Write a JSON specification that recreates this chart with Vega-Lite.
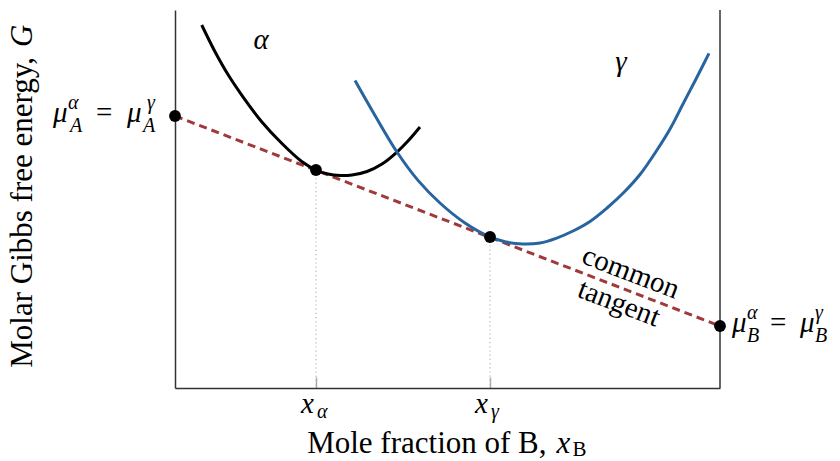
{
  "$schema": "https://vega.github.io/schema/vega-lite/v6.json",
  "width": 545,
  "height": 378,
  "autosize": {"type": "none"},
  "padding": {"left": 175, "top": 10, "right": 120, "bottom": 73},
  "background": "white",
  "config": {"view": {"stroke": null}},
  "datasets": {
    "curves": [
      {"phase": "α", "x": 0.049, "g": 0.9603},
      {"phase": "α", "x": 0.0734, "g": 0.8897},
      {"phase": "α", "x": 0.0978, "g": 0.828},
      {"phase": "α", "x": 0.1224, "g": 0.7751},
      {"phase": "α", "x": 0.1591, "g": 0.7045},
      {"phase": "α", "x": 0.1958, "g": 0.6474},
      {"phase": "α", "x": 0.2325, "g": 0.5992},
      {"phase": "α", "x": 0.2587, "g": 0.5767},
      {"phase": "α", "x": 0.2807, "g": 0.5661},
      {"phase": "α", "x": 0.3028, "g": 0.5622},
      {"phase": "α", "x": 0.3248, "g": 0.5635},
      {"phase": "α", "x": 0.3523, "g": 0.5728},
      {"phase": "α", "x": 0.3798, "g": 0.5926},
      {"phase": "α", "x": 0.4073, "g": 0.6243},
      {"phase": "α", "x": 0.4275, "g": 0.6534},
      {"phase": "α", "x": 0.4495, "g": 0.6905},
      {"phase": "γ", "x": 0.3303, "g": 0.8135},
      {"phase": "γ", "x": 0.367, "g": 0.7209},
      {"phase": "γ", "x": 0.4073, "g": 0.6243},
      {"phase": "γ", "x": 0.4459, "g": 0.5492},
      {"phase": "γ", "x": 0.4862, "g": 0.4894},
      {"phase": "γ", "x": 0.5321, "g": 0.4365},
      {"phase": "γ", "x": 0.578, "g": 0.3995},
      {"phase": "γ", "x": 0.6073, "g": 0.3862},
      {"phase": "γ", "x": 0.6385, "g": 0.381},
      {"phase": "γ", "x": 0.6697, "g": 0.3836},
      {"phase": "γ", "x": 0.6991, "g": 0.3958},
      {"phase": "γ", "x": 0.7303, "g": 0.4153},
      {"phase": "γ", "x": 0.7615, "g": 0.4405},
      {"phase": "γ", "x": 0.7927, "g": 0.4762},
      {"phase": "γ", "x": 0.822, "g": 0.5151},
      {"phase": "γ", "x": 0.8532, "g": 0.5648},
      {"phase": "γ", "x": 0.8844, "g": 0.6296},
      {"phase": "γ", "x": 0.9083, "g": 0.6852},
      {"phase": "γ", "x": 0.9321, "g": 0.7513},
      {"phase": "γ", "x": 0.956, "g": 0.8175},
      {"phase": "γ", "x": 0.9798, "g": 0.8854}
    ],
    "tangent": [
      {"x": 0, "g": 0.7196},
      {"x": 1, "g": 0.164}
    ],
    "points": [
      {"id": "A", "label": "A", "x": 0, "g": 0.7196},
      {"id": "alpha", "label": "α", "x": 0.2587, "g": 0.5767},
      {"id": "gamma", "label": "γ", "x": 0.578, "g": 0.3995},
      {"id": "B", "label": "B", "x": 1, "g": 0.164}
    ],
    "phases": [
      {"label": "α", "x": 0.1578, "g": 0.8968},
      {"label": "γ", "x": 0.8183, "g": 0.8386}
    ],
    "notes": [
      {"note": "common tangent", "x": 0.8349, "g": 0.2558}
    ]
  },
  "encoding": {
    "x": {
      "field": "x", "type": "quantitative",
      "scale": {"domain": [0, 1], "nice": false, "zero": false},
      "axis": {"orient": "bottom", "values": [0.2587, 0.578], "labels": false, "title": null, "grid": false,
               "domainColor": "#333333", "domainWidth": 1.5, "tickColor": "#aaaaaa", "tickSize": -11, "tickWidth": 1.5}
    },
    "y": {
      "field": "g", "type": "quantitative",
      "scale": {"domain": [0, 1], "nice": false, "zero": false},
      "axis": {"labels": false, "ticks": false, "title": null, "grid": false, "domainColor": "#333333", "domainWidth": 1.5}
    }
  },
  "layer": [
    {
      "data": {"name": "points"},
      "transform": [{"filter": "datum.id == 'alpha' || datum.id == 'gamma'"}],
      "mark": {"type": "rule", "color": "#b5b5b5", "strokeWidth": 1.2, "strokeDash": [1.2, 3]},
      "encoding": {"y2": {"datum": 0}}
    },
    {
      "data": {"name": "points"},
      "transform": [{"filter": "datum.id == 'B'"}],
      "mark": {"type": "rule", "color": "#333333", "strokeWidth": 1.5},
      "encoding": {"y": {"datum": 0}, "y2": {"datum": 1}}
    },
    {
      "data": {"name": "tangent"},
      "mark": {"type": "line", "color": "#a03a3a", "strokeWidth": 3, "strokeDash": [8, 5]},
      "encoding": {}
    },
    {
      "data": {"name": "curves"},
      "mark": {"type": "line", "strokeWidth": 3, "interpolate": "catmull-rom"},
      "encoding": {
        "color": {"field": "phase", "type": "nominal", "scale": {"domain": ["α", "γ"], "range": ["#000000", "#28649f"]}, "legend": null}
      }
    },
    {
      "data": {"name": "points"},
      "mark": {"type": "circle", "color": "#000000", "opacity": 1, "size": 140},
      "encoding": {}
    },
    {
      "data": {"name": "phases"},
      "mark": {"type": "text", "font": "Liberation Serif", "fontStyle": "italic", "fontSize": 29, "align": "center", "baseline": "alphabetic"},
      "encoding": {"text": {"field": "label"}}
    },
    {
      "data": {"name": "notes"},
      "mark": {"type": "text", "text": ["common", "tangent"], "font": "Liberation Serif", "fontSize": 29, "align": "center", "baseline": "alphabetic", "angle": 21, "dx": -6, "dy": -9, "lineHeight": 33}
    },
    {
      "data": {"name": "points"},
      "transform": [{"filter": "datum.id == 'A'"}],
      "layer": [
        {"mark": {"type": "text", "text": "μ", "font": "Liberation Serif", "fontStyle": "italic", "fontSize": 29, "align": "left", "baseline": "alphabetic", "dx": -122, "dy": 6}},
        {"mark": {"type": "text", "text": "α", "font": "Liberation Serif", "fontStyle": "italic", "fontSize": 20, "align": "left", "baseline": "alphabetic", "dx": -107, "dy": -7}},
        {"mark": {"type": "text", "text": "A", "font": "Liberation Serif", "fontStyle": "italic", "fontSize": 20, "align": "left", "baseline": "alphabetic", "dx": -105, "dy": 16}},
        {"mark": {"type": "text", "text": "=", "font": "Liberation Serif", "fontSize": 29, "align": "left", "baseline": "alphabetic", "dx": -79, "dy": 6}},
        {"mark": {"type": "text", "text": "μ", "font": "Liberation Serif", "fontStyle": "italic", "fontSize": 29, "align": "left", "baseline": "alphabetic", "dx": -48, "dy": 6}},
        {"mark": {"type": "text", "text": "γ", "font": "Liberation Serif", "fontStyle": "italic", "fontSize": 20, "align": "left", "baseline": "alphabetic", "dx": -28, "dy": -7}},
        {"mark": {"type": "text", "text": "A", "font": "Liberation Serif", "fontStyle": "italic", "fontSize": 20, "align": "left", "baseline": "alphabetic", "dx": -32, "dy": 16}}
      ]
    },
    {
      "data": {"name": "points"},
      "transform": [{"filter": "datum.id == 'B'"}],
      "layer": [
        {"mark": {"type": "text", "text": "μ", "font": "Liberation Serif", "fontStyle": "italic", "fontSize": 29, "align": "left", "baseline": "alphabetic", "dx": 12, "dy": 6}},
        {"mark": {"type": "text", "text": "α", "font": "Liberation Serif", "fontStyle": "italic", "fontSize": 20, "align": "left", "baseline": "alphabetic", "dx": 27, "dy": -7}},
        {"mark": {"type": "text", "text": "B", "font": "Liberation Serif", "fontStyle": "italic", "fontSize": 20, "align": "left", "baseline": "alphabetic", "dx": 27, "dy": 16}},
        {"mark": {"type": "text", "text": "=", "font": "Liberation Serif", "fontSize": 29, "align": "left", "baseline": "alphabetic", "dx": 50, "dy": 6}},
        {"mark": {"type": "text", "text": "μ", "font": "Liberation Serif", "fontStyle": "italic", "fontSize": 29, "align": "left", "baseline": "alphabetic", "dx": 80, "dy": 6}},
        {"mark": {"type": "text", "text": "γ", "font": "Liberation Serif", "fontStyle": "italic", "fontSize": 20, "align": "left", "baseline": "alphabetic", "dx": 95, "dy": -7}},
        {"mark": {"type": "text", "text": "B", "font": "Liberation Serif", "fontStyle": "italic", "fontSize": 20, "align": "left", "baseline": "alphabetic", "dx": 95, "dy": 16}}
      ]
    },
    {
      "data": {"name": "points"},
      "transform": [{"filter": "datum.id == 'alpha' || datum.id == 'gamma'"}],
      "encoding": {"y": {"datum": 0}},
      "layer": [
        {"mark": {"type": "text", "text": "x", "font": "Liberation Serif", "fontStyle": "italic", "fontSize": 29, "align": "left", "baseline": "alphabetic", "dx": -15, "dy": 25}},
        {"mark": {"type": "text", "font": "Liberation Serif", "fontStyle": "italic", "fontSize": 20, "align": "left", "baseline": "alphabetic", "dx": 1, "dy": 30},
         "encoding": {"text": {"field": "label"}}}
      ]
    },
    {
      "data": {"name": "points"},
      "transform": [{"filter": "datum.id == 'B'"}],
      "encoding": {"x": {"datum": 0.5}, "y": {"datum": 0}},
      "layer": [
        {"mark": {"type": "text", "text": "Mole fraction of B,", "font": "Liberation Serif", "fontSize": 31, "align": "right", "baseline": "alphabetic", "dx": 99, "dy": 65}},
        {"mark": {"type": "text", "text": "x", "font": "Liberation Serif", "fontStyle": "italic", "fontSize": 31, "align": "left", "baseline": "alphabetic", "dx": 109, "dy": 65}},
        {"mark": {"type": "text", "text": "B", "font": "Liberation Serif", "fontSize": 21, "align": "left", "baseline": "alphabetic", "dx": 125, "dy": 68}}
      ]
    },
    {
      "data": {"name": "points"},
      "transform": [{"filter": "datum.id == 'A'"}],
      "encoding": {"x": {"datum": 0}, "y": {"datum": 0.5}},
      "layer": [
        {"mark": {"type": "text", "text": "Molar Gibbs free energy,", "font": "Liberation Serif", "fontSize": 31, "align": "right", "baseline": "alphabetic", "angle": 270, "dx": 142, "dy": -143}},
        {"mark": {"type": "text", "text": "G", "font": "Liberation Serif", "fontStyle": "italic", "fontSize": 31, "align": "left", "baseline": "alphabetic", "angle": 270, "dx": 152, "dy": -143}}
      ]
    }
  ]
}
